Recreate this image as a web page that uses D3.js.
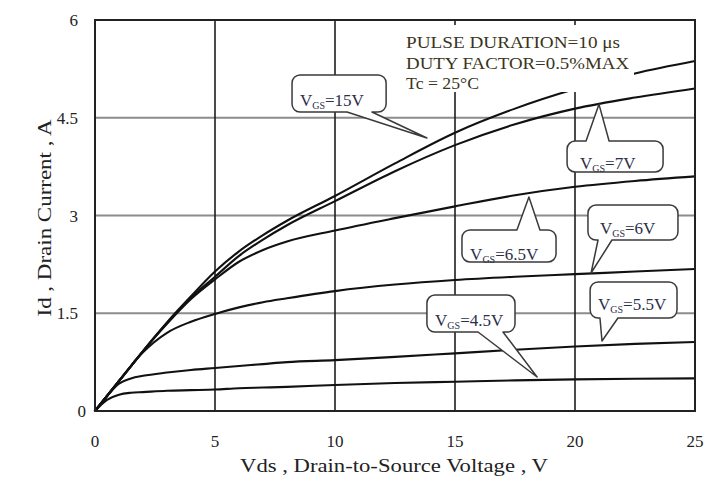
<!DOCTYPE html>
<html>
<head>
<meta charset="utf-8">
<script src="https://cdn.jsdelivr.net/npm/d3@7"></script>
<style>
  body { margin: 0; background: #fff; }
  svg { display: block; font-family: 'Liberation Serif', 'DejaVu Serif', serif; }
</style>
</head>
<body>
<svg id="chart" width="712" height="482"></svg>
<script>
'use strict';

// --- Data ----------------------------------------------------------

var vds = [0, 0.5, 1, 1.5, 2, 3, 4, 5, 6, 7, 8, 10, 12.5, 15, 17.5, 20, 22.5, 25];

var id15  = [0, 0.23, 0.46, 0.69, 0.92, 1.36, 1.76, 2.14, 2.45, 2.70, 2.92, 3.30, 3.80, 4.27, 4.64, 4.94, 5.18, 5.37];
var id7   = [0, 0.23, 0.46, 0.69, 0.92, 1.35, 1.74, 2.06, 2.38, 2.63, 2.85, 3.22, 3.68, 4.08, 4.40, 4.64, 4.81, 4.95];
var id65  = [0, 0.23, 0.46, 0.69, 0.92, 1.34, 1.72, 2.02, 2.29, 2.47, 2.60, 2.77, 2.96, 3.14, 3.31, 3.44, 3.53, 3.60];
var id6   = [0, 0.23, 0.46, 0.69, 0.90, 1.20, 1.37, 1.49, 1.59, 1.67, 1.73, 1.84, 1.94, 2.01, 2.06, 2.10, 2.14, 2.18];
var id55  = [0, 0.23, 0.42, 0.50, 0.54, 0.59, 0.63, 0.66, 0.69, 0.72, 0.75, 0.78, 0.83, 0.885, 0.94, 0.99, 1.03, 1.06];
var id45  = [0, 0.17, 0.25, 0.28, 0.29, 0.31, 0.32, 0.33, 0.35, 0.36, 0.37, 0.40, 0.43, 0.45, 0.47, 0.486, 0.495, 0.50];

var seriesNames = ['15V', '7V', '6.5V', '6V', '5.5V', '4.5V'];
var seriesValues = [id15, id7, id65, id6, id55, id45];

var xTicks = [0, 5, 10, 15, 20, 25];
var yTicks = [0, 1.5, 3, 4.5, 6];

var conditionLines = ['PULSE DURATION=10 \u03bcs', 'DUTY FACTOR=0.5%MAX', 'Tc = 25\u00b0C'];

// --- Layout ---------------------------------------------------------

var plot = { left: 95, right: 695, top: 20, bottom: 411 };

var svg = d3.select('#chart');

var x = d3.scaleLinear().domain([0, 25]).range([plot.left, plot.right]);
var y = d3.scaleLinear().domain([0, 6]).range([plot.bottom, plot.top]);

// callouts, placed in data units (V, A): box = [v0, v1, iTop, iBottom]
var callouts = [
    { name: '15V',  box: [8.21, 12.13, 5.156, 4.588], edge: 'bottom', base: [10.5, 11.54],  tip: [13.83, 4.19],  text: [8.54, 4.68] },
    { name: '7V',   box: [19.67, 23.67, 4.143, 3.668], edge: 'top',   base: [20.46, 21.42], tip: [21.0, 4.706],  text: [20.21, 3.713] },
    { name: '6.5V', box: [15.29, 19.21, 2.778, 2.287], edge: 'top',   base: [17.58, 18.54], tip: [18.08, 3.284], text: [15.63, 2.317] },
    { name: '6V',   box: [20.54, 24.29, 3.161, 2.624], edge: 'bottom', base: [20.96, 21.54], tip: [20.67, 2.118], text: [21.04, 2.716] },
    { name: '5.5V', box: [20.63, 24.25, 1.980, 1.427], edge: 'bottom', base: [21.04, 21.79], tip: [21.125, 1.074], text: [20.96, 1.55] },
    { name: '4.5V', box: [13.83, 17.5, 1.780, 1.212],  edge: 'bottom', base: [15.96, 17.0],  tip: [18.42, 0.522], text: [14.17, 1.304] }
];

// --- Grid -------------------------------------------------------------

var gridG = svg.append('g').attr('class', 'grid');

gridG.selectAll('line.h')
    .data(yTicks.slice(1, -1))
    .enter().append('line')
    .attr('class', 'h')
    .attr('x1', plot.left).attr('x2', plot.right)
    .attr('y1', function (d) { return y(d); })
    .attr('y2', function (d) { return y(d); })
    .attr('stroke', '#8c8c8c')
    .attr('stroke-width', 2);

gridG.selectAll('line.v')
    .data(xTicks.slice(1, -1))
    .enter().append('line')
    .attr('class', 'v')
    .attr('x1', function (d) { return x(d); })
    .attr('x2', function (d) { return x(d); })
    .attr('y1', plot.top).attr('y2', plot.bottom)
    .attr('stroke', '#1e1e1e')
    .attr('stroke-width', 1.6);

// --- Curves -----------------------------------------------------------

var line = d3.line()
    .x(function (d) { return x(d[0]); })
    .y(function (d) { return y(d[1]); })
    .curve(d3.curveMonotoneX);

svg.append('g').attr('class', 'curves')
    .selectAll('path')
    .data(seriesValues)
    .enter().append('path')
    .attr('d', function (vals) {
        return line(vds.map(function (v, i) { return [v, vals[i]]; }));
    })
    .attr('fill', 'none')
    .attr('stroke', '#111')
    .attr('stroke-width', 2.1)
    .attr('stroke-linecap', 'round');

// --- Test conditions (white box hides grid and the top curve) ------------

var condG = svg.append('g').attr('class', 'conditions');

condG.append('rect')
    .attr('x', x(12.625))
    .attr('y', y(5.923))
    .attr('width', x(22.458) - x(12.625))
    .attr('height', y(4.895) - y(5.923))
    .attr('fill', '#fff');

var condWidths = [214, 223, 73];
condG.selectAll('text')
    .data(conditionLines)
    .enter().append('text')
    .attr('x', x(12.96))
    .attr('y', function (d, i) { return y([5.57, 5.248, 4.941][i]); })
    .attr('textLength', function (d, i) { return condWidths[i]; })
    .attr('lengthAdjust', 'spacingAndGlyphs')
    .attr('font-size', 17)
    .attr('fill', '#3a3520')
    .text(function (d) { return d; });

// --- Callouts ---------------------------------------------------------

function calloutPath(c) {
    var x0 = x(c.box[0]), x1 = x(c.box[1]),
        y0 = y(c.box[2]), y1 = y(c.box[3]),
        b0 = x(c.base[0]), b1 = x(c.base[1]),
        tx = x(c.tip[0]), ty = y(c.tip[1]),
        r = 8, p = d3.path();

    p.moveTo(x0 + r, y0);
    if (c.edge === 'top') {
        p.lineTo(b0, y0);
        p.lineTo(tx, ty);
        p.lineTo(b1, y0);
    }
    p.lineTo(x1 - r, y0);
    p.arcTo(x1, y0, x1, y0 + r, r);
    p.lineTo(x1, y1 - r);
    p.arcTo(x1, y1, x1 - r, y1, r);
    if (c.edge === 'bottom') {
        p.lineTo(b1, y1);
        p.lineTo(tx, ty);
        p.lineTo(b0, y1);
    }
    p.lineTo(x0 + r, y1);
    p.arcTo(x0, y1, x0, y1 - r, r);
    p.lineTo(x0, y0 + r);
    p.arcTo(x0, y0, x0 + r, y0, r);
    p.closePath();
    return p.toString();
}

var calloutG = svg.append('g').attr('class', 'callouts')
    .selectAll('g')
    .data(callouts)
    .enter().append('g');

calloutG.append('path')
    .attr('d', calloutPath)
    .attr('fill', '#fff')
    .attr('stroke', '#3a3a3a')
    .attr('stroke-width', 1.5)
    .attr('stroke-linejoin', 'round');

var calloutText = calloutG.append('text')
    .attr('x', function (c) { return x(c.text[0]); })
    .attr('y', function (c) { return y(c.text[1]); })
    .attr('font-size', 17)
    .attr('fill', '#2b2f48');

calloutText.append('tspan').text('V');
calloutText.append('tspan')
    .attr('font-size', 10)
    .attr('dy', 3)
    .text('GS');
calloutText.append('tspan')
    .attr('dy', -3)
    .text(function (c) { return '=' + c.name; });

// --- Frame, tick labels, titles -------------------------------------

svg.append('rect')
    .attr('x', plot.left)
    .attr('y', plot.top)
    .attr('width', plot.right - plot.left)
    .attr('height', plot.bottom - plot.top)
    .attr('fill', 'none')
    .attr('stroke', '#222')
    .attr('stroke-width', 2);

svg.append('g').attr('class', 'x-labels')
    .selectAll('text')
    .data(xTicks)
    .enter().append('text')
    .attr('x', function (d) { return x(d); })
    .attr('y', 447)
    .attr('text-anchor', 'middle')
    .attr('font-size', 17)
    .attr('fill', '#222')
    .text(function (d) { return d; });

svg.append('g').attr('class', 'y-labels')
    .selectAll('text')
    .data(yTicks)
    .enter().append('text')
    .attr('x', function (d) { return d === 0 ? 86 : 78; })
    .attr('y', function (d) { return y(d) + 6; })
    .attr('text-anchor', 'end')
    .attr('font-size', 17)
    .attr('fill', '#222')
    .text(function (d) { return d; });

svg.append('text')
    .attr('x', 394)
    .attr('y', 472)
    .attr('text-anchor', 'middle')
    .attr('textLength', 308)
    .attr('lengthAdjust', 'spacingAndGlyphs')
    .attr('font-size', 18)
    .attr('fill', '#222')
    .text('Vds , Drain-to-Source Voltage , V');

svg.append('text')
    .attr('transform', 'translate(51,218) rotate(-90)')
    .attr('text-anchor', 'middle')
    .attr('textLength', 197)
    .attr('lengthAdjust', 'spacingAndGlyphs')
    .attr('font-size', 18)
    .attr('fill', '#222')
    .text('Id , Drain Current , A');
</script>
</body>
</html>
